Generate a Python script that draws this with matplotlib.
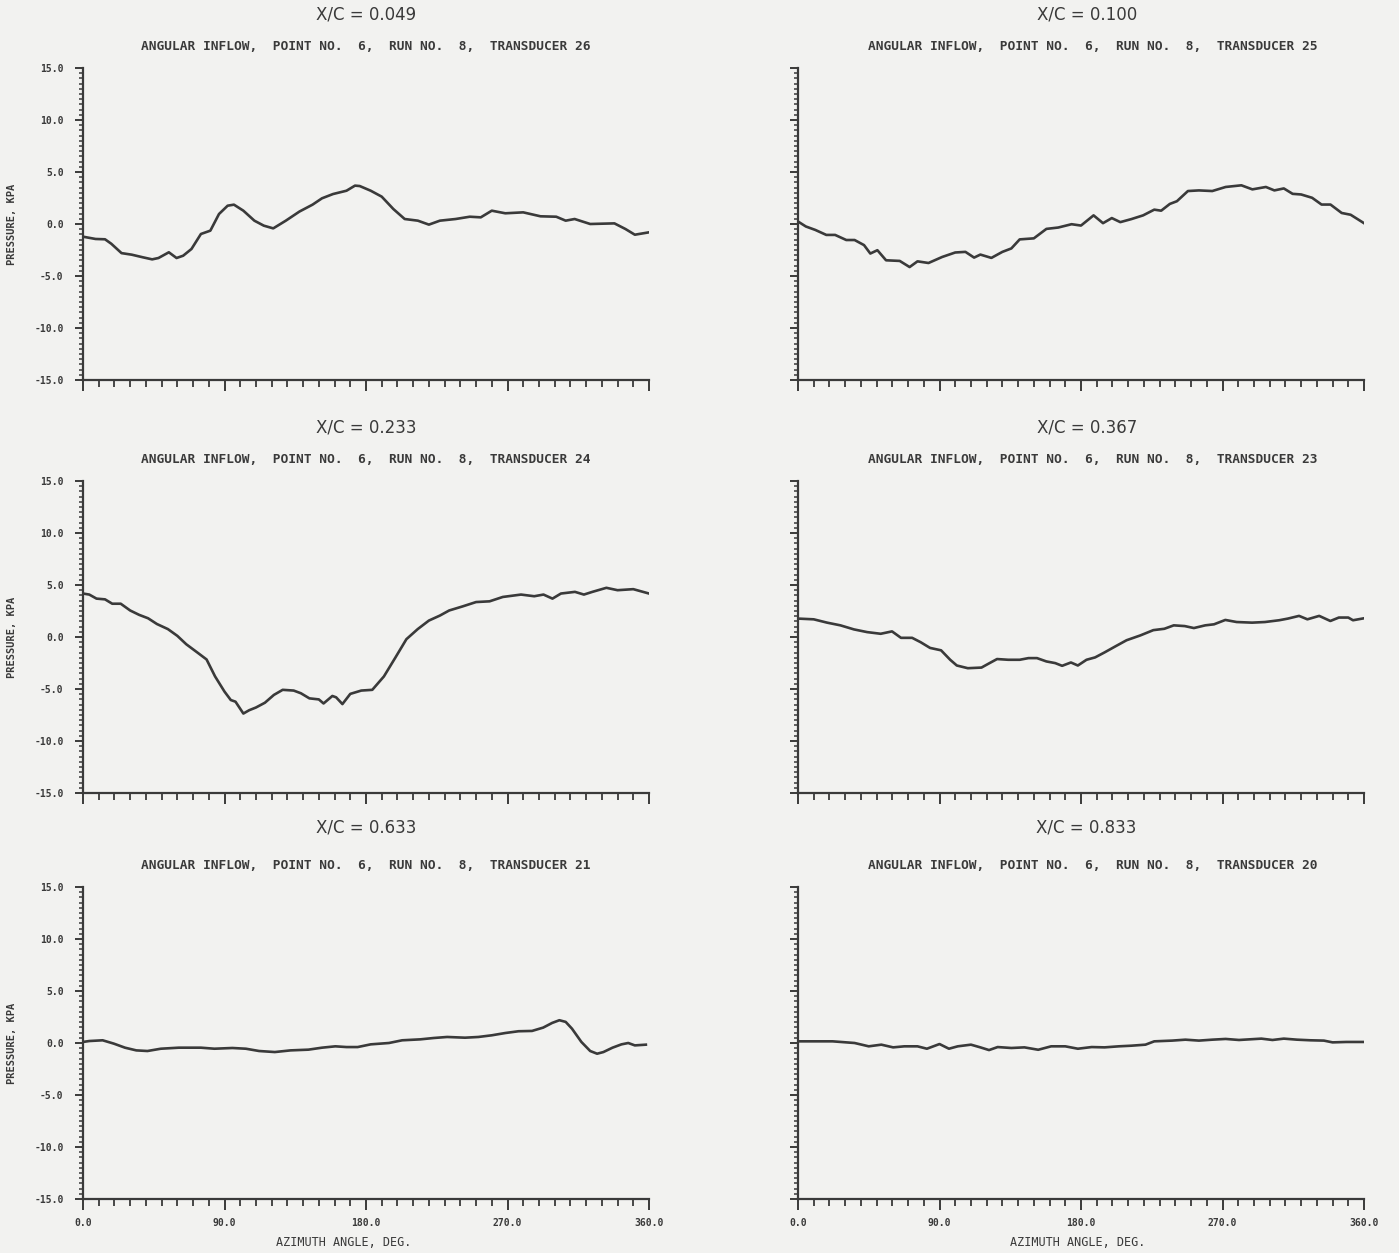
import matplotlib
matplotlib.use("Agg")
import matplotlib.pyplot as plt
from matplotlib.ticker import MultipleLocator, FormatStrFormatter

# Pressure vs. azimuth angle at six chordwise stations (X/C)
xc_labels = ["0.049", "0.100", "0.233", "0.367", "0.633", "0.833"]
transducers = ["26", "25", "24", "23", "21", "20"]

ang_049 = [0, 8, 14, 18, 24.5, 31, 38, 44, 48, 54.6, 59.5, 63.7, 69, 75, 81, 86.5, 92, 96, 102,
           109, 115, 121, 129, 137.7, 146, 152, 159, 167.6, 173, 176, 183, 190, 197.4, 204.6,
           213, 220, 227, 237, 246, 253, 260, 268.6, 280, 291, 301, 307, 312.7, 322.6, 338,
           345, 351, 360]
p_049 = [-1.22, -1.44, -1.47, -1.9, -2.8, -2.95, -3.2, -3.4, -3.27, -2.72, -3.27, -3.05, -2.4,
         -0.96, -0.64, 0.96, 1.76, 1.86, 1.28, 0.32, -0.16, -0.42, 0.32, 1.2, 1.86, 2.47, 2.88,
         3.2, 3.69, 3.65, 3.2, 2.63, 1.44, 0.48, 0.32, -0.06, 0.32, 0.48, 0.7, 0.64, 1.28, 1.03,
         1.12, 0.74, 0.7, 0.32, 0.48, 0.0, 0.06, -0.48, -1.03, -0.8]

ang_100 = [0, 5, 11, 18, 23.6, 30.7, 36, 42, 46, 50.5, 56, 64.7, 71, 76, 83, 91.7, 100, 106.5,
           112, 116, 123, 130, 135.7, 141, 150, 158, 165.5, 174, 180, 188, 194, 199.6, 205, 212,
           219.5, 226.6, 231, 236.5, 241, 248, 255, 263.5, 272, 282, 289, 297.6, 303, 309, 314.6,
           320, 327, 333, 338.7, 345.8, 351.5, 360]
p_100 = [0.24, -0.24, -0.57, -1.05, -1.05, -1.54, -1.54, -2.03, -2.84, -2.52, -3.49, -3.55,
         -4.14, -3.59, -3.75, -3.17, -2.74, -2.68, -3.23, -2.94, -3.26, -2.68, -2.35, -1.48,
         -1.38, -0.47, -0.34, -0.02, -0.15, 0.83, 0.08, 0.57, 0.18, 0.47, 0.83, 1.38, 1.28, 1.93,
         2.19, 3.17, 3.23, 3.17, 3.56, 3.72, 3.33, 3.56, 3.23, 3.42, 2.9, 2.84, 2.52, 1.87, 1.87,
         1.06, 0.89, 0.08]

ang_233 = [0, 4, 8.6, 14, 18.6, 24, 30, 35.7, 41.4, 47, 54, 60, 65.7, 72.9, 78.6, 84, 90, 94,
           97, 102, 105.7, 110, 115.7, 121.4, 127, 134, 138.6, 144, 150, 153, 158.6, 161, 165,
           170, 177, 184, 191.4, 198.6, 205.7, 212.9, 220, 227, 232.9, 241.4, 250, 258.6, 267,
           278.6, 287, 292.9, 298.6, 304, 312.9, 318.6, 324, 332.9, 340, 350, 360]
p_233 = [4.18, 4.08, 3.69, 3.62, 3.2, 3.2, 2.55, 2.13, 1.8, 1.25, 0.76, 0.11, -0.7, -1.51,
         -2.16, -3.79, -5.25, -6.06, -6.22, -7.36, -7.04, -6.78, -6.32, -5.57, -5.08, -5.15,
         -5.41, -5.9, -6.0, -6.39, -5.67, -5.8, -6.45, -5.47, -5.15, -5.08, -3.79, -2.0, -0.21,
         0.76, 1.58, 2.06, 2.55, 2.94, 3.36, 3.43, 3.85, 4.08, 3.92, 4.08, 3.69, 4.18, 4.34,
         4.08, 4.34, 4.73, 4.5, 4.6, 4.18]

ang_367 = [0, 10, 18.5, 27, 35.6, 44, 52.6, 59.8, 65.5, 72.6, 78, 84, 91, 96.8, 101, 108, 116.7,
           121, 126.6, 133.7, 141, 146.6, 152, 158, 163.6, 168, 173.6, 178, 183.5, 189, 195,
           202, 209, 217.7, 226, 233, 239, 246, 251.8, 259, 264.6, 271.8, 279, 288.8, 297, 306,
           311.6, 318.7, 324, 331.5, 338.6, 344, 350, 353, 360]
p_367 = [1.77, 1.7, 1.38, 1.12, 0.73, 0.47, 0.31, 0.54, -0.08, -0.08, -0.5, -1.05, -1.28, -2.19,
         -2.74, -3.0, -2.94, -2.58, -2.12, -2.19, -2.19, -2.03, -2.03, -2.35, -2.51, -2.77,
         -2.45, -2.74, -2.19, -1.96, -1.48, -0.89, -0.31, 0.15, 0.66, 0.79, 1.12, 1.05, 0.86,
         1.12, 1.22, 1.64, 1.44, 1.38, 1.44, 1.61, 1.77, 2.03, 1.7, 2.03, 1.54, 1.87, 1.87,
         1.61, 1.8]

ang_633 = [0, 4, 12.5, 19.6, 26.7, 33.9, 41, 49.5, 60.9, 75, 83.6, 95, 103.6, 112, 122, 132,
           143.4, 152, 160.5, 167.6, 174.7, 183, 194.6, 203, 214.5, 223, 231.6, 243, 251.5, 260,
           268.6, 277, 285.6, 292.7, 298.4, 303, 307, 311, 317, 322.6, 327, 331, 336.8, 342.5,
           346.8, 351, 358]
p_633 = [0.1, 0.19, 0.26, -0.06, -0.45, -0.71, -0.77, -0.55, -0.45, -0.45, -0.55, -0.48, -0.55,
         -0.77, -0.87, -0.71, -0.64, -0.45, -0.32, -0.39, -0.39, -0.13, 0.0, 0.26, 0.35, 0.48,
         0.58, 0.51, 0.58, 0.74, 0.96, 1.13, 1.16, 1.48, 1.93, 2.19, 2.03, 1.38, 0.1, -0.77,
         -1.03, -0.87, -0.45, -0.13, 0.0, -0.23, -0.16]

ang_833 = [0, 10.8, 22, 36, 45, 53, 60.5, 67.6, 76, 82, 90, 96, 101.6, 110, 116, 121.5, 127,
           135.7, 144, 152.8, 161, 170, 178, 186.8, 195, 204, 212, 221, 226.6, 238, 246.4, 255,
           263.5, 272, 280.5, 294.7, 301.8, 309, 317.4, 326, 334.5, 340, 348.7, 360]
p_833 = [0.16, 0.16, 0.16, 0.0, -0.32, -0.16, -0.42, -0.32, -0.32, -0.55, -0.1, -0.55, -0.32,
         -0.16, -0.42, -0.68, -0.39, -0.48, -0.42, -0.65, -0.32, -0.32, -0.55, -0.39, -0.42,
         -0.32, -0.26, -0.16, 0.16, 0.23, 0.32, 0.23, 0.32, 0.39, 0.29, 0.42, 0.29, 0.42, 0.32,
         0.26, 0.23, 0.06, 0.1, 0.1]

angles = [ang_049, ang_100, ang_233, ang_367, ang_633, ang_833]
pressures = [p_049, p_100, p_233, p_367, p_633, p_833]

x_ticks = [0, 90, 180, 270, 360]
y_ticks = [-15, -10, -5, 0, 5, 10, 15]

BG = "#f2f2f0"
INK = "#3a3a3a"

fig = plt.figure(figsize=(13.99, 12.53), dpi=100, facecolor=BG)

col_left = [83 / 1399, 798 / 1399]
col_width = 566 / 1399
row_bottom = [1 - 380 / 1253, 1 - 793 / 1253, 1 - 1199 / 1253]
row_height = 312 / 1253

mono = "DejaVu Sans Mono"

for i in range(6):
    r, c = divmod(i, 2)
    ax = fig.add_axes([col_left[c], row_bottom[r], col_width, row_height])
    ax.set_facecolor(BG)
    ax.plot(angles[i], pressures[i], color=INK, lw=1.9, solid_joinstyle="round")
    ax.set_xlim(0, 360)
    ax.set_ylim(-15, 15)

    for s in ("top", "right"):
        ax.spines[s].set_visible(False)
    for s in ("left", "bottom"):
        ax.spines[s].set_color(INK)
        ax.spines[s].set_linewidth(1.6)

    ax.set_xticks(x_ticks)
    ax.xaxis.set_minor_locator(MultipleLocator(10))
    ax.set_yticks(y_ticks)
    ax.yaxis.set_minor_locator(MultipleLocator(0.5))
    ax.xaxis.set_major_formatter(FormatStrFormatter("%.1f"))
    ax.yaxis.set_major_formatter(FormatStrFormatter("%.1f"))

    ax.tick_params(axis="x", which="major", direction="out", length=8, width=1.4,
                   color=INK, pad=6)
    ax.tick_params(axis="x", which="minor", direction="out", length=5, width=1.3, color=INK)
    ax.tick_params(axis="y", which="major", direction="out", length=6, width=1.4,
                   color=INK, pad=8)
    ax.tick_params(axis="y", which="minor", direction="out", length=3, width=1.1, color=INK)

    for lab in ax.get_xticklabels() + ax.get_yticklabels():
        lab.set_fontfamily(mono)
        lab.set_fontweight("bold")
        lab.set_fontsize(7)
        lab.set_color(INK)

    if c == 1:
        ax.tick_params(axis="y", labelleft=False)
    else:
        ax.set_ylabel("PRESSURE, KPA", fontfamily=mono, fontweight="bold",
                      fontsize=7.5, color=INK)
        ax.yaxis.set_label_coords(-0.117, 0.5)

    if r < 2:
        ax.tick_params(axis="x", labelbottom=False)
    else:
        ax.set_xlabel("AZIMUTH ANGLE, DEG.", fontfamily=mono, fontsize=8.5, color=INK)
        ax.xaxis.label.set_va("center")
        ax.xaxis.set_label_coords(0.46 if c == 0 else 0.495, -0.14)

    cx = 0.5 if c == 0 else 0.51
    ax.text(cx, 1.172 if r < 2 else 1.19, "X/C = " + xc_labels[i], transform=ax.transAxes,
            ha="center", va="center", fontsize=12, color=INK, fontfamily="DejaVu Sans")
    ax.text(cx + (0 if c == 0 else 0.01), 1.068,
            "ANGULAR INFLOW,  POINT NO.  6,  RUN NO.  8,  TRANSDUCER " + transducers[i],
            transform=ax.transAxes, ha="center", va="center", fontsize=9.3,
            fontweight="bold", fontfamily=mono, color=INK)

fig.savefig("out.png", dpi=100, facecolor=BG)
